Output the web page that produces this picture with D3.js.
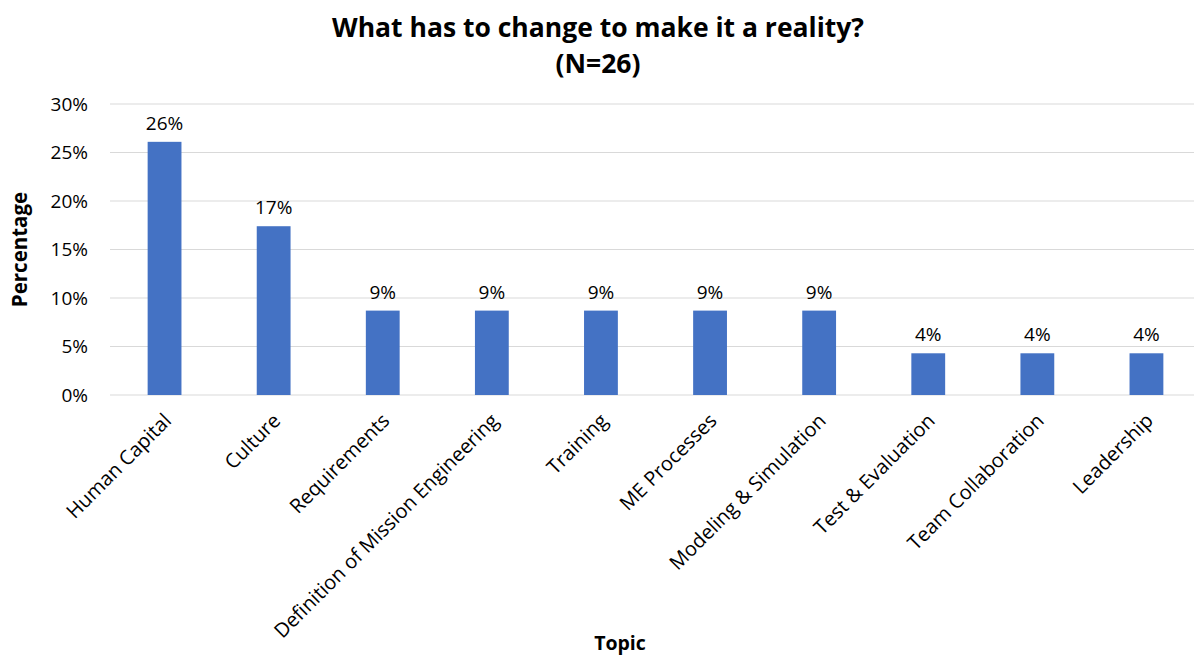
<!DOCTYPE html>
<html>
<head>
<meta charset="utf-8">
<script src="https://cdn.jsdelivr.net/npm/d3@7"></script>
<style>
  html, body { margin: 0; padding: 0; background: #fff; }
  svg { display: block; font-family: "Open Sans", Lato, sans-serif; }
</style>
</head>
<body>
<svg id="chart" width="1194" height="657"></svg>
<script>
// Survey topics and their share of responses (percent)
const categories = [
  "Human Capital", "Culture", "Requirements", "Definition of Mission Engineering",
  "Training", "ME Processes", "Modeling & Simulation", "Test & Evaluation",
  "Team Collaboration", "Leadership"
];
const values = [26.1, 17.4, 8.7, 8.7, 8.7, 8.7, 8.7, 4.3, 4.3, 4.3];
const yTicks = [0, 5, 10, 15, 20, 25, 30];
const titleLines = ["What has to change to make it a reality?", "(N=26)"];

const svg = d3.select("#chart");
const margin = { left: 110, right: -7, top: 104, bottom: 262 };
const W = 1194, H = 657;
const FONT = "'Open Sans', Lato, sans-serif";

const x = d3.scaleBand()
  .domain(categories)
  .range([margin.left, W - margin.right])
  .paddingInner(0.69)
  .paddingOuter(0.345);

const y = d3.scaleLinear()
  .domain([0, 30])
  .range([H - margin.bottom, margin.top]);

// Horizontal gridlines
svg.append("g")
  .selectAll("line")
  .data(yTicks)
  .join("line")
  .attr("x1", margin.left)
  .attr("x2", W)
  .attr("y1", d => y(d))
  .attr("y2", d => y(d))
  .attr("stroke", "#d9d9d9")
  .attr("stroke-width", 1);

// Y axis labels
const yAxis = d3.axisLeft(y)
  .tickValues(yTicks)
  .tickFormat(d => d + "%")
  .tickSize(0)
  .tickPadding(22);
const yg = svg.append("g")
  .attr("transform", `translate(${margin.left},0)`)
  .call(yAxis);
yg.select(".domain").remove();
yg.selectAll("text")
  .attr("font-size", 19)
  .attr("fill", "#000")
  .attr("font-family", FONT);

// Bars
svg.append("g")
  .selectAll("rect")
  .data(values)
  .join("rect")
  .attr("x", (d, i) => x(categories[i]))
  .attr("width", x.bandwidth())
  .attr("y", d => y(d))
  .attr("height", d => y(0) - y(d))
  .attr("fill", "#4472c4");

// Value labels above bars
svg.append("g")
  .selectAll("text")
  .data(values)
  .join("text")
  .attr("x", (d, i) => x(categories[i]) + x.bandwidth() / 2)
  .attr("y", d => y(d) - 12)
  .attr("text-anchor", "middle")
  .attr("font-size", 19)
  .attr("fill", "#000")
  .text(d => Math.round(d) + "%");

// X axis category labels, rotated
const xAxis = d3.axisBottom(x).tickSize(0).tickPadding(0);
const xg = svg.append("g")
  .attr("transform", `translate(0,${y(0)})`)
  .call(xAxis);
xg.select(".domain").remove();
xg.selectAll("text")
  .attr("font-size", 20)
  .attr("fill", "#000")
  .attr("font-family", FONT)
  .attr("text-anchor", "end")
  .attr("dy", "0.35em")
  .attr("transform", "translate(3,22) rotate(-45)");

// Title
svg.append("g")
  .selectAll("text")
  .data(titleLines)
  .join("text")
  .attr("x", 598)
  .attr("y", (d, i) => 37 + i * 36)
  .attr("text-anchor", "middle")
  .attr("font-size", 26.5)
  .attr("font-weight", "bold")
  .attr("fill", "#000")
  .text(d => d);

// Axis titles
svg.append("text")
  .attr("transform", `translate(27,${(y(0) + y(30)) / 2}) rotate(-90)`)
  .attr("text-anchor", "middle")
  .attr("font-size", 20.5)
  .attr("font-weight", "bold")
  .text("Percentage");

svg.append("text")
  .attr("x", 620)
  .attr("y", 650)
  .attr("text-anchor", "middle")
  .attr("font-size", 19.5)
  .attr("font-weight", "bold")
  .text("Topic");
</script>
</body>
</html>
